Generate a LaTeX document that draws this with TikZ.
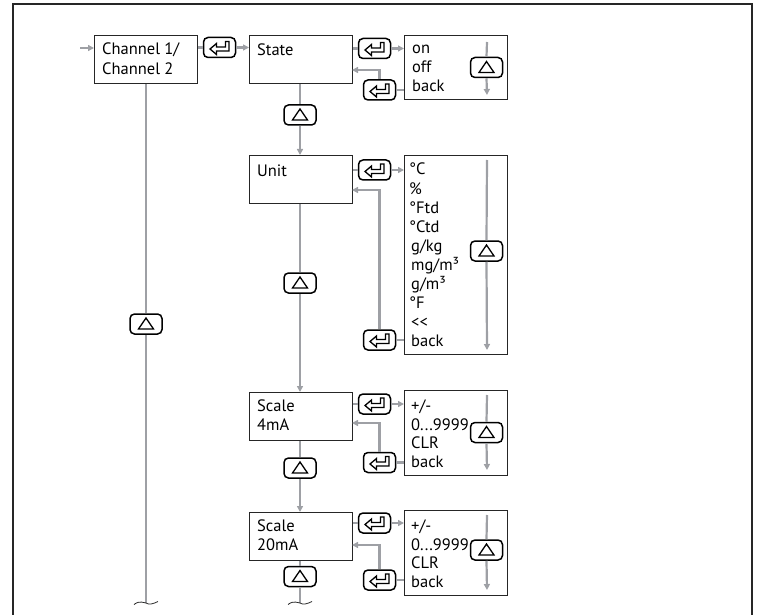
\documentclass[tikz,border=0pt]{standalone}
\usepackage{fontspec}
\setmainfont{PT Sans}
\usetikzlibrary{arrows.meta,calc}
\definecolor{lgray}{RGB}{158,160,165}
\begin{document}
\begin{tikzpicture}[x=1pt,y=-1pt,
  every node/.style={font=\fontsize{16.5}{19}\selectfont},
  menubox/.style={draw=black!85, line width=0.9pt, minimum width=103pt, minimum height=48pt, anchor=north west, inner sep=0pt},
  listbox/.style={draw=black!85, line width=0.9pt, minimum width=103pt, anchor=north west, inner sep=0pt},
  btn/.style={draw=black, line width=1.5pt, rounded corners=4.5pt, minimum width=32pt, minimum height=20pt, inner sep=0pt, fill=white},
  enterbtn/.style={btn, path picture={\draw[sharp corners, line width=1.3pt, line join=miter, shift={(path picture bounding box.center)}] (-9.5pt,-1.5pt) -- (-3pt,4pt) -- (-3pt,0.5pt) -- (6pt,0.5pt) -- (6pt,6pt) -- (9.5pt,6pt) -- (9.5pt,-3.5pt) -- (-3pt,-3.5pt) -- (-3pt,-7pt) -- cycle;}},
  upbtn/.style={btn, path picture={\draw[sharp corners, line width=1.3pt, line join=miter, shift={(path picture bounding box.center)}] (-7.5pt,-5pt) -- (7.5pt,-5pt) -- (0pt,6pt) -- cycle;}},
  conn/.style={draw=lgray, line width=2.2pt},
  arr/.style={conn, -{Triangle[length=6pt,width=6pt]}},
  txt/.style={anchor=base west, inner sep=0pt}
]
\useasboundingbox (0,0) rectangle (758,615);
% frame
\draw[black!85, line width=1.3pt] (13,615) -- (13,4) -- (752,4) -- (752,615);

% menu boxes
\node[menubox] (ch) at (94,35) {};
\node[menubox] (st) at (249,35) {};
\node[menubox] (un) at (249,155) {};
\node[menubox] (s4) at (249,392) {};
\node[menubox] (s20) at (249,512) {};

\node[txt] (tch1) at (102,55) {Channel 1/};
\node[txt] (tch2) at (102,75) {Channel 2};
\node[txt] (tst) at (257,56) {State};
\node[txt] (tun) at (257,177) {Unit};
\node[txt] (ts4a) at (257,411) {Scale};
\node[txt] (ts4b) at (257,430) {4mA};
\node[txt] (ts20a) at (257,531) {Scale};
\node[txt] (ts20b) at (257,550) {20mA};

% list boxes
\node[listbox, minimum height=64pt] (l1) at (404,35) {};
\node[listbox, minimum height=199pt] (l2) at (404,155) {};
\node[listbox, minimum height=85pt] (l3) at (404,390) {};
\node[listbox, minimum height=85pt] (l4) at (404,510) {};

\node[txt] (a1) at (412,54) {on};
\node[txt] (a2) at (412,73) {off};
\node[txt] (a3) at (412,92) {back};

\node[txt] (c1) at (409,175) {°C};
\node[txt] (c2) at (409,194) {\%};
\node[txt] (c3) at (409,213) {°Ftd};
\node[txt] (c4) at (409,232) {°Ctd};
\node[txt] (c5) at (411,251) {g/kg};
\node[txt] (c6) at (411,270) {mg/m³};
\node[txt] (c7) at (411,289) {g/m³};
\node[txt] (c8) at (409,308) {°F};
\node[txt] (c9) at (411,327) {<{}<};
\node[txt] (c10) at (411,346) {back};

\node[txt] (d1) at (411,411) {+/-};
\node[txt] (d2) at (411,430) {0...9999};
\node[txt] (d3) at (411,448) {CLR};
\node[txt] (d4) at (411,467) {back};

\node[txt] (f1) at (411,531) {+/-};
\node[txt] (f2) at (411,550) {0...9999};
\node[txt] (f3) at (411,568) {CLR};
\node[txt] (f4) at (411,587) {back};

% coordinates
\coordinate (in) at (80,48);
\coordinate (chend) at (146,603);
\coordinate (unend) at (300,603);
\coordinate (r1) at (352,70);
\coordinate (r2) at (352,190);
\coordinate (r3) at (352,423);
\coordinate (r4) at (352,545);
\coordinate (t1) at (487,42);  \coordinate (z1) at (487,95);
\coordinate (t2) at (487,160); \coordinate (z2) at (487,350);
\coordinate (t3) at (487,395); \coordinate (z3) at (487,470);
\coordinate (t4) at (487,515); \coordinate (z4) at (487,590);

% buttons
\node[enterbtn] (e0) at (219.5,47.5) {};
\node[enterbtn] (e1) at (374.5,48.5) {};
\node[enterbtn] (b1) at (379.5,90) {};
\node[upbtn] (sb1) at (486.5,67.5) {};
\node[upbtn] (u1) at (300,115) {};
\node[enterbtn] (e2) at (374.5,170) {};
\node[enterbtn] (b2) at (379.5,340) {};
\node[upbtn] (sb2) at (486.5,251) {};
\node[upbtn] (u2) at (300,283) {};
\node[enterbtn] (e3) at (374.5,404) {};
\node[enterbtn] (b3) at (379.5,462.5) {};
\node[upbtn] (sb3) at (486.5,432.5) {};
\node[upbtn] (u3) at (300,468) {};
\node[enterbtn] (e4) at (374.5,523) {};
\node[enterbtn] (b4) at (379.5,580) {};
\node[upbtn] (sb4) at (486.5,550) {};
\node[upbtn] (u4) at (300,576.5) {};
\node[upbtn] (cu) at (146,324) {};

% connectors: channel
\draw[arr] (in) -- (in -| ch.west);
\draw[conn] (e0.west -| ch.east) -- (e0.west);
\draw[arr] (e0.east) -- (e0.east -| st.west);
\draw[conn] (ch.south -| cu.north) -- (cu.north);
\draw[conn] (cu.south) -- (chend);

% state
\draw[conn] (e1.west -| st.east) -- (e1.west);
\draw[arr] (e1.east) -- (e1.east -| l1.west);
\draw[conn] (b1.east -| l1.west) -- (b1.east);
\draw[arr] (b1.north) |- (r1);
\draw[conn] (t1) -- (sb1.north);
\draw[arr] (sb1.south) -- (z1);
\draw[conn] (st.south -| u1.north) -- (u1.north);
\draw[arr] (u1.south) -- (u1.south |- un.north);

% unit
\draw[conn] (e2.west -| un.east) -- (e2.west);
\draw[arr] (e2.east) -- (e2.east -| l2.west);
\draw[conn] (b2.east -| l2.west) -- (b2.east);
\draw[arr] (b2.north) |- (r2);
\draw[conn] (t2) -- (sb2.north);
\draw[arr] (sb2.south) -- (z2);
\draw[conn] (un.south -| u2.north) -- (u2.north);
\draw[arr] (u2.south) -- (u2.south |- s4.north);

% scale 4mA
\draw[conn] (e3.west -| s4.east) -- (e3.west);
\draw[arr] (e3.east) -- (e3.east -| l3.west);
\draw[conn] (b3.east -| l3.west) -- (b3.east);
\draw[arr] (b3.north) |- (r3);
\draw[conn] (t3) -- (sb3.north);
\draw[arr] (sb3.south) -- (z3);
\draw[conn] (s4.south -| u3.north) -- (u3.north);
\draw[arr] (u3.south) -- (u3.south |- s20.north);

% scale 20mA
\draw[conn] (e4.west -| s20.east) -- (e4.west);
\draw[arr] (e4.east) -- (e4.east -| l4.west);
\draw[conn] (b4.east -| l4.west) -- (b4.east);
\draw[arr] (b4.north) |- (r4);
\draw[conn] (t4) -- (sb4.north);
\draw[arr] (sb4.south) -- (z4);
\draw[conn] (s20.south -| u4.north) -- (u4.north);
\draw[conn] (u4.south) -- (unend);

% break marks
\draw[black!85, line width=0.8pt] ($(chend)+(-12,1.5)$) .. controls ($(chend)+(-6,-3)$) and ($(chend)+(-2,0)$) .. (chend) .. controls ($(chend)+(3,2)$) and ($(chend)+(7,1)$) .. ($(chend)+(12,-1.5)$);
\draw[black!85, line width=0.8pt] ($(unend)+(-12,1.5)$) .. controls ($(unend)+(-6,-3)$) and ($(unend)+(-2,0)$) .. (unend) .. controls ($(unend)+(3,2)$) and ($(unend)+(7,1)$) .. ($(unend)+(12,-1.5)$);
\end{tikzpicture}
\end{document}
